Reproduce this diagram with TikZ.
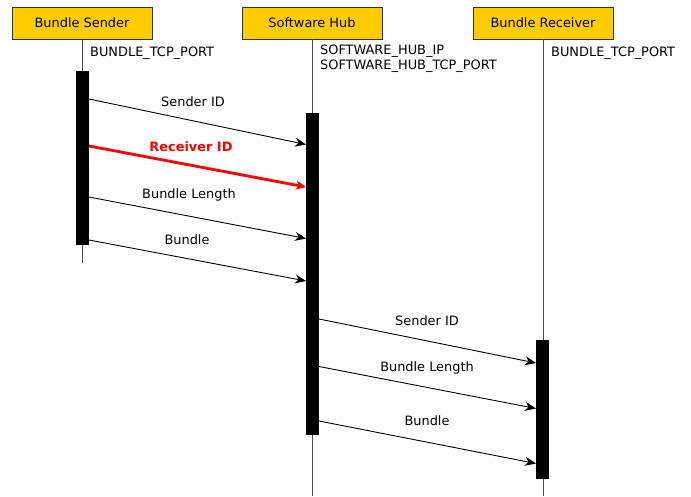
\documentclass[tikz,border=0pt]{standalone}
\usepackage{fontspec}
\setmainfont{DejaVu Sans}
\usetikzlibrary{arrows.meta}
\definecolor{boxyellow}{HTML}{FFCC00}
\begin{document}
\begin{tikzpicture}[x=1pt,y=-1pt,
  font=\fontsize{12.9}{15}\selectfont,
  actor/.style={draw=black!80,fill=boxyellow,line width=0.9pt,minimum width=140pt,minimum height=32pt,inner sep=0pt},
  life/.style={draw=black!70,line width=1pt},
  bar/.style={fill=black,draw=none,minimum width=13pt,inner sep=0pt},
  msg/.style={draw=black,line width=0.9pt,-{Stealth[length=11pt,width=9pt,inset=3.5pt]}},
  redmsg/.style={draw=red,line width=2.8pt,-{Stealth[length=10pt,width=9pt,inset=3pt]}},
  lbl/.style={inner sep=0pt,anchor=center},
  note/.style={inner sep=0pt,anchor=west,align=left}]
\useasboundingbox (0,0) rectangle (691,496);
% actors
\node[actor] (snd) at (82,23) {Bundle Sender};
\node[actor] (hub) at (312,23) {Software Hub};
\node[actor] (rcv) at (543,23) {Bundle Receiver};
% lifeline ends
\coordinate (sndend) at (82,263);
\coordinate (hubend) at (312,496);
\coordinate (rcvend) at (543,496);
\draw[life] (snd.south) -- (sndend);
\draw[life] (hub.south) -- (hubend);
\draw[life] (rcv.south) -- (rcvend);
% notes
\node[note] (sndnote) at (90,53) {BUNDLE\_TCP\_PORT};
\node[note,anchor=north west] (hubnote) at (320,45) {SOFTWARE\_HUB\_IP\\SOFTWARE\_HUB\_TCP\_PORT};
\node[note] (rcvnote) at (551,53) {BUNDLE\_TCP\_PORT};
% activation bars
\node[bar,minimum height=174pt] (sbar) at (82.5,158) {};
\node[bar,minimum height=322pt] (hbar) at (312.5,274) {};
\node[bar,minimum height=139pt] (rbar) at (542.5,409) {};
% message points
\coordinate (a1) at (89,99);  \coordinate (b1) at (306,144.5);
\coordinate (a2) at (89,146); \coordinate (b2) at (306,187);
\coordinate (a3) at (89,197); \coordinate (b3) at (306,238.5);
\coordinate (a4) at (89,240); \coordinate (b4) at (306,281);
\coordinate (a5) at (319,319); \coordinate (b5) at (536,363);
\coordinate (a6) at (319,366.5); \coordinate (b6) at (536,408.5);
\coordinate (a7) at (319,421); \coordinate (b7) at (536,463.5);
\draw[msg] (a1) -- (b1);
\draw[redmsg] (a2) -- (b2);
\draw[msg] (a3) -- (b3);
\draw[msg] (a4) -- (b4);
\draw[msg] (a5) -- (b5);
\draw[msg] (a6) -- (b6);
\draw[msg] (a7) -- (b7);
% labels
\node[lbl] (l1) at (193,102) {Sender ID};
\node[lbl,text=red,font=\fontsize{12.9}{15}\selectfont\bfseries] (l2) at (191,147) {Receiver ID};
\node[lbl] (l3) at (189,195) {Bundle Length};
\node[lbl] (l4) at (187,240) {Bundle};
\node[lbl] (l5) at (427,321) {Sender ID};
\node[lbl] (l6) at (427,368) {Bundle Length};
\node[lbl] (l7) at (427,421) {Bundle};
\end{tikzpicture}
\end{document}
